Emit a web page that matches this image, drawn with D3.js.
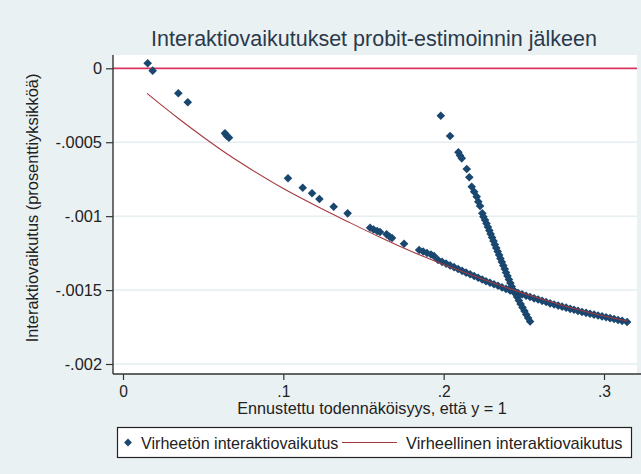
<!DOCTYPE html>
<html><head><meta charset="utf-8">
<script src="https://cdn.jsdelivr.net/npm/d3@7"></script>
<style>
body{margin:0;background:#eaf1f3;}
svg{display:block;}
text{font-family:"Liberation Sans",Arial,sans-serif;}
</style>
</head><body>
<svg id="chart" width="641" height="474"></svg>
<script>
const titleText = "Interaktiovaikutukset probit-estimoinnin jälkeen";
const xTitle = "Ennustettu todennäköisyys, että y = 1";
const yTitle = "Interaktiovaikutus (prosenttiyksikköä)";
const legendLabels = ["Virheetön interaktiovaikutus", "Virheellinen interaktiovaikutus"];

const xTicks = [0, 0.1, 0.2, 0.3];
const xTickLabels = ["0", ".1", ".2", ".3"];
const yTicks = [0, -0.0005, -0.001, -0.0015, -0.002];
const yTickLabels = ["0", "-.0005", "-.001", "-.0015", "-.002"];
const refLineY = [0];

// Virheetön interaktiovaikutus (scatter, diamonds)
const correctX = [
  0.0154, 0.0185, 0.0345, 0.0404, 0.0636, 0.0647, 0.0661, 0.1029, 0.1121, 0.1179,
  0.1225, 0.1314, 0.1401, 0.1541, 0.1563, 0.1585, 0.1603, 0.1644, 0.1663, 0.1678,
  0.1753, 0.1847, 0.1872, 0.1896, 0.1921, 0.1940,
  0.1965, 0.1990, 0.2015, 0.2040, 0.2065, 0.2090, 0.2115, 0.2140, 0.2165, 0.2190,
  0.2215, 0.2240, 0.2264, 0.2289, 0.2314, 0.2339, 0.2364, 0.2389, 0.2414, 0.2439,
  0.2464, 0.2489, 0.2514, 0.2539, 0.2564, 0.2589, 0.2614, 0.2639, 0.2664, 0.2689,
  0.2714, 0.2739, 0.2764, 0.2789, 0.2813, 0.2838, 0.2863, 0.2888, 0.2913, 0.2938,
  0.2963, 0.2988, 0.3013, 0.3038, 0.3063, 0.3088, 0.3113, 0.3144,
  0.1982, 0.2040, 0.2092, 0.2102, 0.2113, 0.2144, 0.2160, 0.2175, 0.2190, 0.2206,
  0.2216, 0.2227, 0.2241, 0.2248,
  0.2258, 0.2267, 0.2276, 0.2285, 0.2293, 0.2302, 0.2311, 0.2319, 0.2328, 0.2337,
  0.2346, 0.2354, 0.2363, 0.2372, 0.2381, 0.2389, 0.2398, 0.2407, 0.2416, 0.2424,
  0.2435, 0.2446, 0.2458, 0.2469, 0.2480, 0.2492, 0.2504, 0.2515, 0.2527, 0.2539
];
const correctY = [
  0.000034, -0.000016, -0.000169, -0.000230, -0.000440, -0.000456, -0.000469, -0.000744, -0.000808, -0.000845,
  -0.000884, -0.000936, -0.000981, -0.001078, -0.001090, -0.001100, -0.001107, -0.001123, -0.001139, -0.001148,
  -0.001187, -0.001229, -0.001239, -0.001249, -0.001259, -0.001270,
  -0.001297, -0.001309, -0.001321, -0.001333, -0.001345, -0.001357, -0.001370, -0.001382, -0.001393, -0.001405,
  -0.001417, -0.001428, -0.001440, -0.001450, -0.001461, -0.001471, -0.001482, -0.001492, -0.001503, -0.001512,
  -0.001520, -0.001529, -0.001538, -0.001547, -0.001556, -0.001564, -0.001573, -0.001581, -0.001590, -0.001598,
  -0.001605, -0.001612, -0.001619, -0.001627, -0.001633, -0.001641, -0.001648, -0.001654, -0.001660, -0.001666,
  -0.001672, -0.001678, -0.001684, -0.001690, -0.001696, -0.001702, -0.001708, -0.001716,
  -0.000321, -0.000458, -0.000568, -0.000590, -0.000609, -0.000681, -0.000737, -0.000801, -0.000835, -0.000868,
  -0.000902, -0.000931, -0.000981, -0.001004,
  -0.001026, -0.001050, -0.001073, -0.001097, -0.001121, -0.001144, -0.001168, -0.001192, -0.001215, -0.001239,
  -0.001263, -0.001286, -0.001310, -0.001334, -0.001357, -0.001381, -0.001405, -0.001428, -0.001452, -0.001476,
  -0.001500, -0.001523, -0.001547, -0.001571, -0.001594, -0.001618, -0.001642, -0.001665, -0.001689, -0.001713
];

// Virheellinen interaktiovaikutus (line)
const wrongX = [0.015, 0.025, 0.035, 0.05, 0.065, 0.08, 0.10, 0.12, 0.14, 0.16, 0.18, 0.20, 0.22, 0.24, 0.26, 0.28, 0.30, 0.3145];
const wrongY = [-0.000170, -0.000258, -0.000343, -0.000465, -0.000580, -0.000684, -0.000813, -0.000928, -0.001036, -0.001141,
  -0.001239, -0.001327, -0.001408, -0.001486, -0.001557, -0.001621, -0.001675, -0.001709];

const W = 641, H = 474;
const plot = {left: 113, right: 637, top: 55, bottom: 374};
const navy = "#1a476f", maroon = "#a5393f", refRed = "#d8365f", bg = "#eaf1f3";

const svg = d3.select("#chart");
svg.append("rect").attr("width", W).attr("height", H).attr("fill", bg);

const x = d3.scaleLinear().domain([0, 0.3]).range([123, 604]);
const y = d3.scaleLinear().domain([0, -0.002]).range([68.3, 364]);

// plot region
svg.append("rect").attr("x", plot.left).attr("y", plot.top)
  .attr("width", plot.right - plot.left).attr("height", plot.bottom - plot.top)
  .attr("fill", "#ffffff");

// gridlines
svg.append("g").selectAll("line").data(yTicks.slice(1)).join("line")
  .attr("x1", plot.left).attr("x2", plot.right)
  .attr("y1", d => y(d)).attr("y2", d => y(d))
  .attr("stroke", "#e6eef1").attr("stroke-width", 1.5);

// reference line at 0
svg.append("g").selectAll("line").data(refLineY).join("line")
  .attr("x1", plot.left).attr("x2", plot.right)
  .attr("y1", d => y(d)).attr("y2", d => y(d))
  .attr("stroke", refRed).attr("stroke-width", 1.8);

// scatter
const diamond = r => `M0,${-r}L${r},0L0,${r}L${-r},0Z`;
const pts = correctX.map((v, i) => [v, correctY[i]]);
svg.append("g").selectAll("path").data(pts).join("path")
  .attr("d", diamond(4.3))
  .attr("transform", d => `translate(${x(d[0])},${y(d[1])})`)
  .attr("fill", navy);

// line
const linePts = wrongX.map((v, i) => [v, wrongY[i]]);
svg.append("path").datum(linePts)
  .attr("d", d3.line().x(d => x(d[0])).y(d => y(d[1])).curve(d3.curveMonotoneX))
  .attr("fill", "none").attr("stroke", maroon).attr("stroke-width", 1.1);

// axes
const axisColor = "#333";
const yAxis = svg.append("g").attr("transform", `translate(${plot.left},0)`)
  .call(d3.axisLeft(y).tickValues(yTicks).tickFormat((d, i) => yTickLabels[i]).tickSize(7).tickPadding(4));
yAxis.select(".domain").remove();
yAxis.selectAll(".tick line").attr("stroke", axisColor).attr("stroke-width", 1.2);
yAxis.selectAll(".tick text").attr("font-size", 16.4).attr("fill", "#222")
  .attr("font-family", "'Liberation Sans', Arial, sans-serif");
svg.append("line").attr("x1", plot.left).attr("x2", plot.left)
  .attr("y1", plot.top).attr("y2", plot.bottom).attr("stroke", axisColor).attr("stroke-width", 1.4);

const xAxis = svg.append("g").attr("transform", `translate(0,${plot.bottom})`)
  .call(d3.axisBottom(x).tickValues(xTicks).tickFormat((d, i) => xTickLabels[i]).tickSize(6).tickPadding(6));
xAxis.select(".domain").remove();
xAxis.selectAll(".tick line").attr("stroke", axisColor).attr("stroke-width", 1.2);
xAxis.selectAll(".tick text").attr("font-size", 15.6).attr("fill", "#222")
  .attr("font-family", "'Liberation Sans', Arial, sans-serif");
svg.append("line").attr("x1", plot.left).attr("x2", W)
  .attr("y1", plot.bottom).attr("y2", plot.bottom).attr("stroke", axisColor).attr("stroke-width", 1.6);

// titles
svg.append("text").attr("x", 374).attr("y", 46).attr("text-anchor", "middle")
  .attr("font-size", 21.5).attr("fill", "#2b3a4b").text(titleText);
svg.append("text").attr("x", 372).attr("y", 414).attr("text-anchor", "middle")
  .attr("font-size", 16.2).attr("fill", "#222").text(xTitle);
svg.append("text").attr("transform", "translate(38,208) rotate(-90)").attr("text-anchor", "middle")
  .attr("font-size", 16.4).attr("fill", "#222").text(yTitle);

// legend
const lg = svg.append("g");
lg.append("rect").attr("x", 117.5).attr("y", 427.5).attr("width", 514).attr("height", 30)
  .attr("fill", "#ffffff").attr("stroke", "#222").attr("stroke-width", 1.2);
lg.append("path").attr("d", diamond(3.9)).attr("transform", "translate(128,442.5)").attr("fill", navy);
lg.append("text").attr("x", 141).attr("y", 449).attr("font-size", 16.1).attr("fill", "#222").text(legendLabels[0]);
lg.append("line").attr("x1", 342).attr("x2", 397).attr("y1", 442.5).attr("y2", 442.5)
  .attr("stroke", maroon).attr("stroke-width", 1.2);
lg.append("text").attr("x", 406).attr("y", 449).attr("font-size", 16.4).attr("fill", "#222").text(legendLabels[1]);
</script>
</body></html>
